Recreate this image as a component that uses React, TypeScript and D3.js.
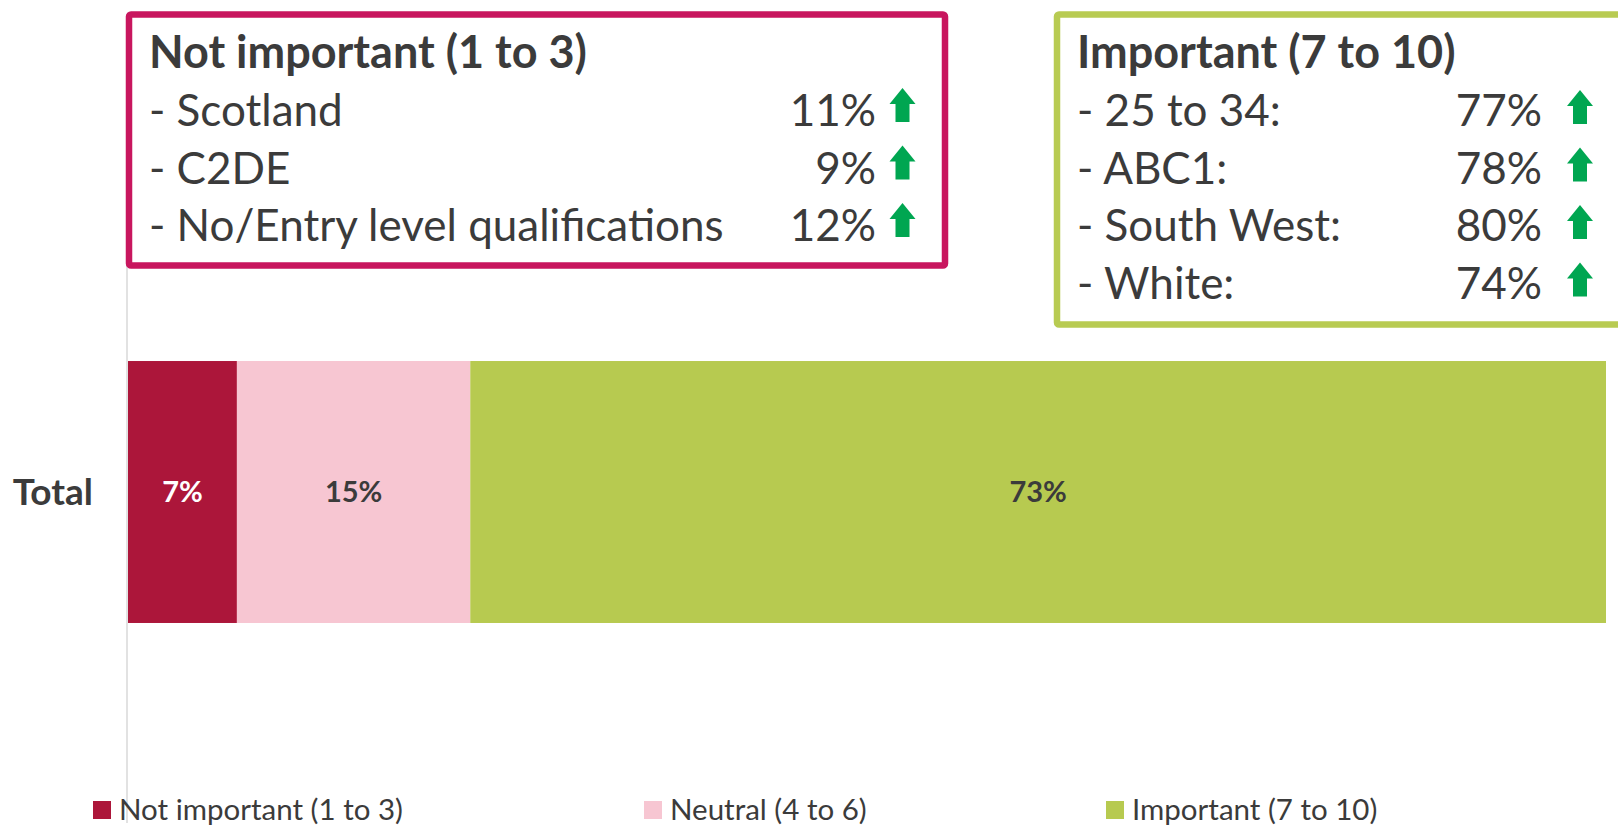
import React, { useEffect } from "react";
import * as d3 from "d3";

const categories = ["Total"];
const seriesNames = ["Not important (1 to 3)", "Neutral (4 to 6)", "Important (7 to 10)"];
const seriesValues = [7, 15, 73];

const notImportantTitle = "Not important (1 to 3)";
const notImportantLabels = ["Scotland", "C2DE", "No/Entry level qualifications"];
const notImportantValues = [11, 9, 12];

const importantTitle = "Important (7 to 10)";
const importantLabels = ["25 to 34:", "ABC1:", "South West:", "White:"];
const importantValues = [77, 78, 80, 74];

const W = 1618;
const H = 825;
const COLORS = ["#AC163A", "#F7C6D2", "#B7CA50"];
const LABEL_COLORS = ["#FFFFFF", "#3B3B3B", "#3B3B3B"];
const TEXT = "#3B3B3B";
const ARROW = "#00A651";
const FONT = "Lato, 'Open Sans', sans-serif";

function Arrow({ cx, yb }: { cx: number; yb: number }) {
  const yt = yb - 34;
  const hw = 13;
  const sw = 7;
  const hh = 16;
  const p = d3.path();
  p.moveTo(cx, yt);
  p.lineTo(cx + hw, yt + hh);
  p.lineTo(cx + sw, yt + hh);
  p.lineTo(cx + sw, yb);
  p.lineTo(cx - sw, yb);
  p.lineTo(cx - sw, yt + hh);
  p.lineTo(cx - hw, yt + hh);
  p.closePath();
  return <path d={p.toString()} fill={ARROW} />;
}

export default function App() {
  useEffect(() => {
    document.body.style.margin = "0";
  }, []);

  const total = d3.sum(seriesValues);
  const x = d3.scaleLinear().domain([0, total]).range([128, 1606]);
  const y = d3.scaleBand().domain(categories).range([273.7, 710.3]).paddingInner(0.25).paddingOuter(0.25);

  const stack = d3.stack<number[]>().keys(seriesNames.map((_, i) => String(i)))
    .value((d, k) => d[+k]);
  const stacked = stack([seriesValues]);

  const rowStep = 57.5;
  const fmt = (v: number) => `${v}%`;

  return (
    <svg width={W} height={H} style={{ display: "block", background: "#fff" }} fontFamily={FONT}>
      {/* category axis line */}
      <line x1={127} x2={127} y1={262} y2={823} stroke="#D9D9D9" strokeWidth={1.5} />

      {/* bars */}
      {categories.map((c) => (
        <g key={c}>
          {stacked.map((s, i) => {
            const d = s[0];
            const x0 = x(d[0]);
            const x1 = x(d[1]);
            const yy = y(c)!;
            const bw = y.bandwidth();
            return (
              <g key={i}>
                <rect x={x0} y={yy} width={x1 - x0} height={bw} fill={COLORS[i]} />
                <text
                  x={(x0 + x1) / 2}
                  y={yy + bw / 2}
                  dy="0.36em"
                  textAnchor="middle"
                  fontWeight={700}
                  fontSize={29}
                  fill={LABEL_COLORS[i]}
                >
                  {fmt(seriesValues[i])}
                </text>
              </g>
            );
          })}
          <text x={93} y={y(c)! + y.bandwidth() / 2} dy="0.36em" textAnchor="end" fontWeight={700} fontSize={37} fill={TEXT}>
            {c}
          </text>
        </g>
      ))}

      {/* Not important box */}
      <rect x={129} y={14.5} width={816} height={251} fill="#fff" stroke="#C8165E" strokeWidth={6.5} rx={2} />
      <text x={149} y={68} fontWeight={700} fontSize={45} fill={TEXT}>{notImportantTitle}</text>
      {notImportantLabels.map((l, i) => (
        <g key={l}>
          <text x={149} y={126 + i * rowStep} fontSize={44} fill={TEXT}>{`- ${l}`}</text>
          <text x={876} y={126 + i * rowStep} fontSize={44} textAnchor="end" fill={TEXT}>{fmt(notImportantValues[i])}</text>
          <Arrow cx={902.5} yb={122 + i * rowStep} />
        </g>
      ))}

      {/* Important box */}
      <rect x={1057} y={14.5} width={620} height={310} fill="#fff" stroke="#B8CB52" strokeWidth={6.5} rx={2} />
      <text x={1077} y={68} fontWeight={700} fontSize={45} fill={TEXT}>{importantTitle}</text>
      {importantLabels.map((l, i) => (
        <g key={l}>
          <text x={1077} y={126 + i * rowStep} fontSize={44} fill={TEXT}>{`- ${l}`}</text>
          <text x={1542} y={126 + i * rowStep} fontSize={44} textAnchor="end" fill={TEXT}>{fmt(importantValues[i])}</text>
          <Arrow cx={1580} yb={124 + i * rowStep} />
        </g>
      ))}

      {/* legend */}
      {seriesNames.map((n, i) => {
        const lx = [93, 644, 1106][i];
        return (
          <g key={n}>
            <rect x={lx} y={801} width={18} height={18} fill={COLORS[i]} />
            <text x={lx + 26} y={820} fontSize={29.5} fill={TEXT}>{n}</text>
          </g>
        );
      })}
    </svg>
  );
}
